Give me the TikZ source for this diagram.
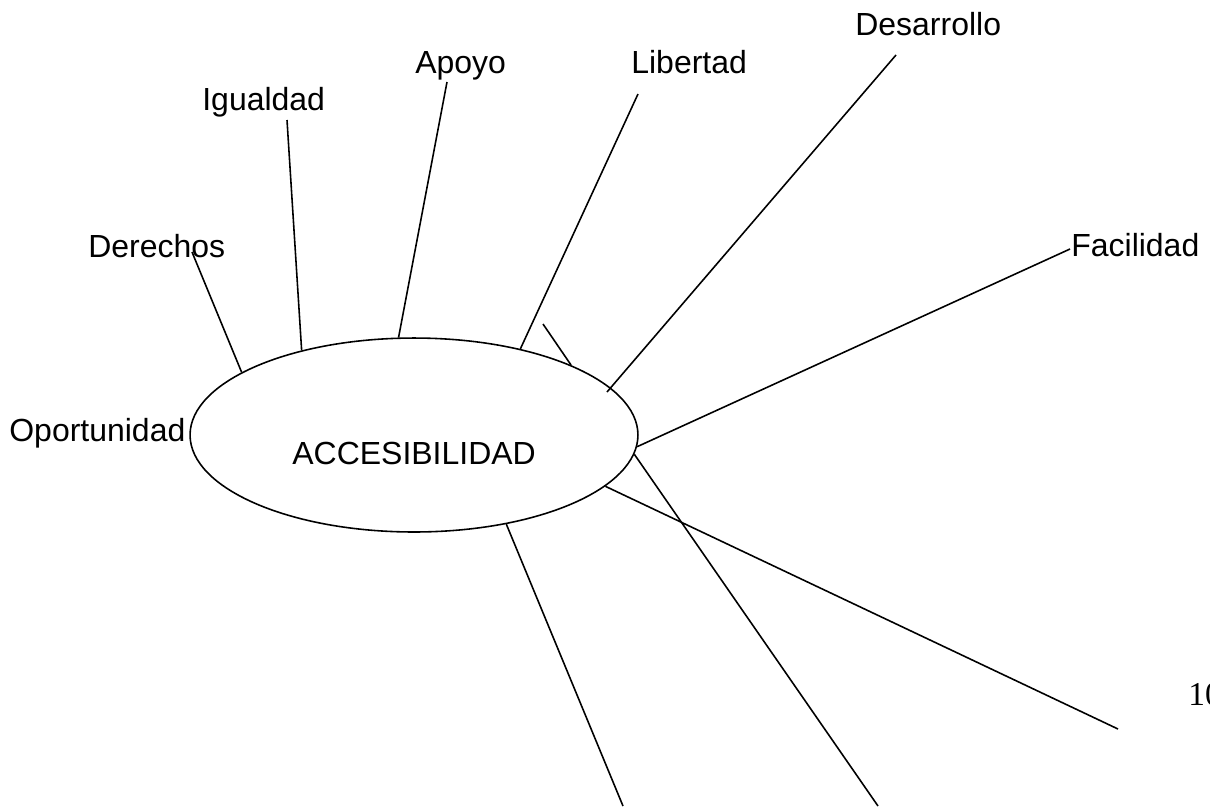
\documentclass[tikz,border=0pt]{standalone}
\usepackage{fontspec}
\setmainfont{Liberation Sans}
\newfontfamily\pagefont{Liberation Serif}
\usetikzlibrary{shapes,positioning,calc}

\tikzset{
  hub/.style={draw, ellipse, minimum width=8.96cm, minimum height=3.88cm, inner sep=0pt, line width=0.9pt},
  word/.style={anchor=base west, inner sep=0pt, font=\fontsize{18.2}{22}\selectfont},
  spoke/.style={line width=0.9pt},
}

\begin{document}
\begin{tikzpicture}[x=0.02cm, y=-0.02cm]
    \useasboundingbox (0,0) rectangle (1210,806);
    % centre
    \node[hub] (acc) at (414,435) {};
    \node[word] (acctext) at (292,464) {ACCESIBILIDAD};

    % labels
    \node[word] (oportunidad) at (9,441) {Oportunidad};
    \node[word] (derechos) at (88,257) {Derechos};
    \node[word] (igualdad) at (202,110) {Igualdad};
    \node[word] (apoyo) at (415,73) {Apoyo};
    \node[word] (libertad) at (631,73) {Libertad};
    \node[word] (desarrollo) at (855,35) {Desarrollo};
    \node[word] (facilidad) at (1071,256) {Facilidad};
    \node[word, font=\pagefont\fontsize{19}{22}\selectfont] (pagenum) at (1188,705) {10};

    % tips of the spokes
    \coordinate (derechostip) at (192,252);
    \coordinate (igualdadtip) at (287,120);
    \coordinate (apoyotip) at (447,82);
    \coordinate (libertadtip) at (638,94);
    \coordinate (desarrollotip) at (896,55);
    \coordinate (desarrollofoot) at (607,392);
    \coordinate (facilidadtip) at (1070,249);
    \coordinate (shorttip) at (543,324);
    \coordinate (endA) at (1118,729);
    \coordinate (endB) at (623,806);
    \coordinate (endC) at (878,806);

    % spokes
    \draw[spoke] (acc.160.6) -- (derechostip);
    \draw[spoke] (acc.143.4) -- (igualdadtip);
    \draw[spoke] (acc.99.6) -- (apoyotip);
    \draw[spoke] (acc.39) -- (libertadtip);
    \draw[spoke] (acc.24.2) -- (shorttip);
    \draw[spoke] (desarrollofoot) -- (desarrollotip);
    \draw[spoke] (acc.-3.8) -- (facilidadtip);
    \draw[spoke] (acc.-15.4) -- (endA);
    \draw[spoke] (acc.-5.1) -- (endC);
    \draw[spoke] (acc.-44) -- (endB);
\end{tikzpicture}
\end{document}
